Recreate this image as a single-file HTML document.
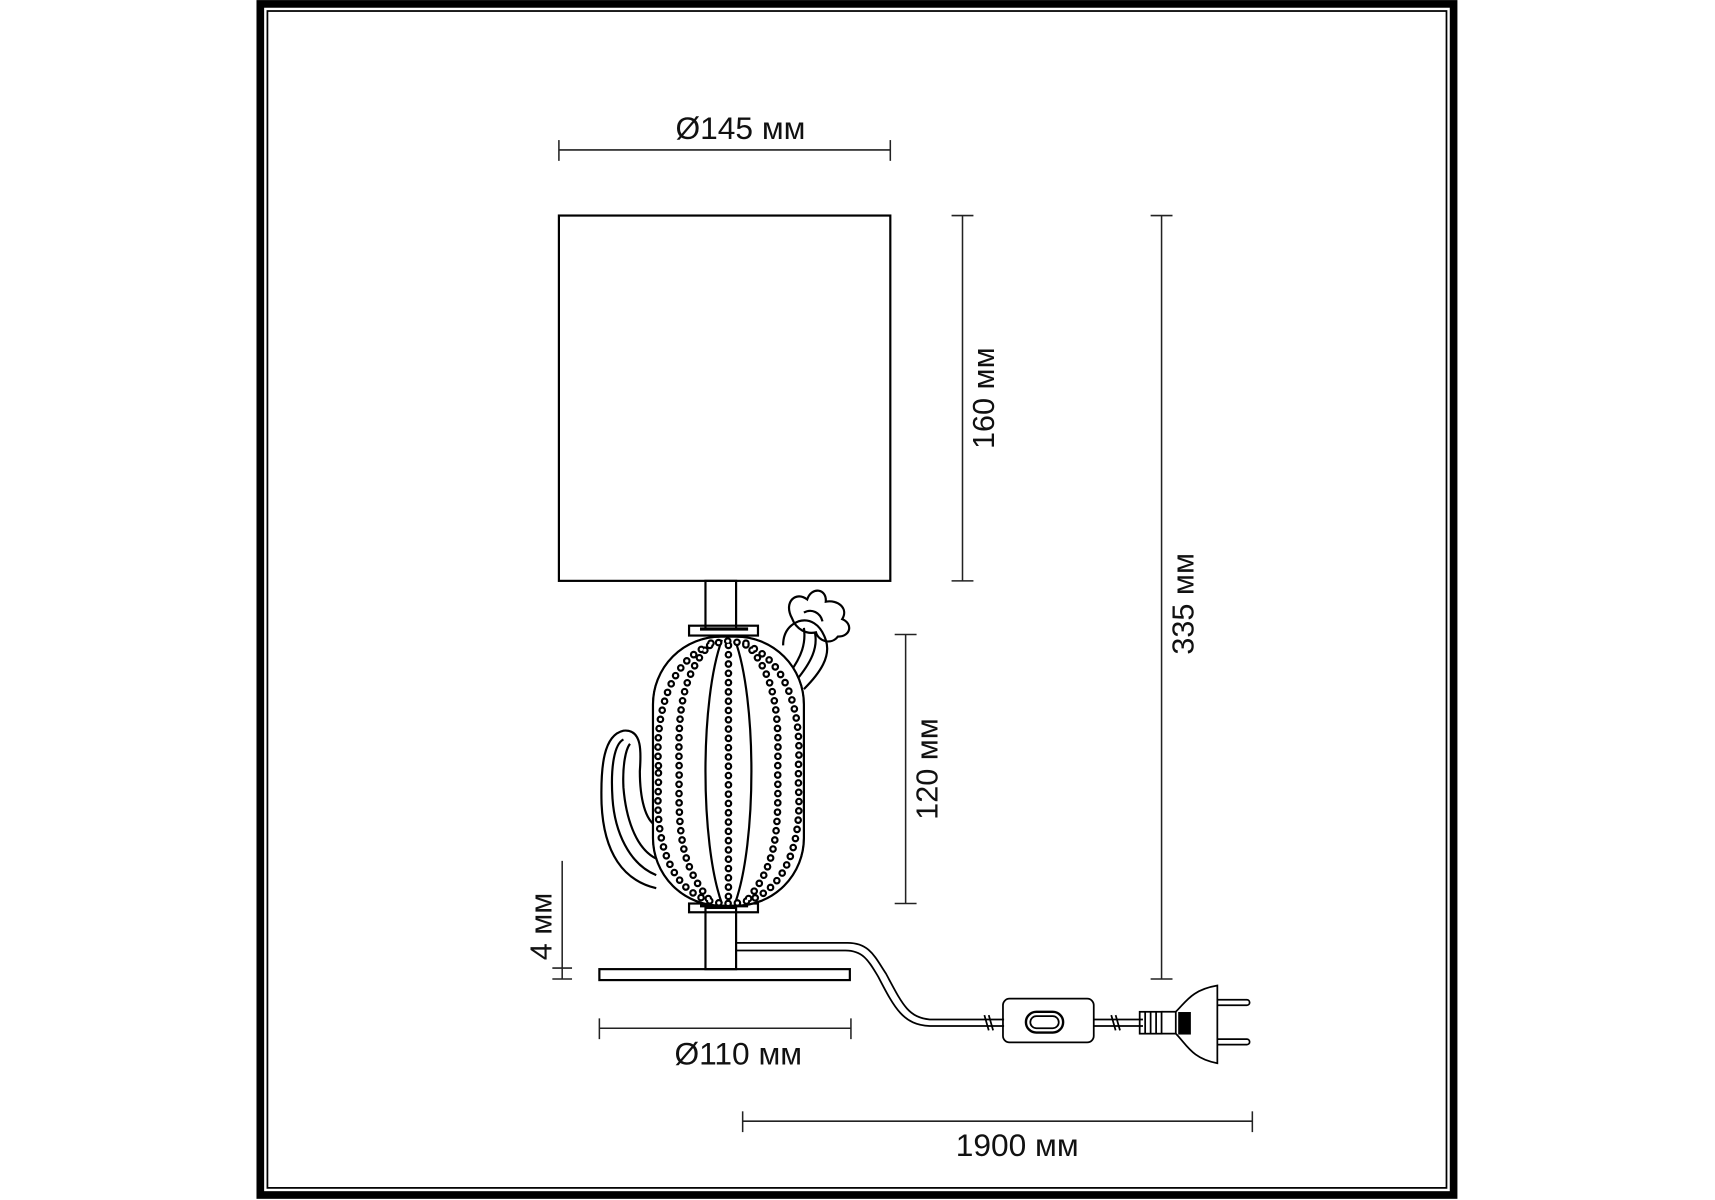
<!DOCTYPE html>
<html><head><meta charset="utf-8"><style>
html,body{margin:0;padding:0;background:#fff;}
svg{display:block;}
text{font-family:"Liberation Sans Narrow","Liberation Sans",sans-serif;fill:#111;}
</style></head><body>
<svg width="1715" height="1200" viewBox="0 0 1568 1097" xmlns="http://www.w3.org/2000/svg">
<rect x="0" y="0" width="1568" height="1097" fill="#fff"/>
<rect x="238" y="3.5" width="1091" height="1089" fill="none" stroke="#000" stroke-width="7"/>
<rect x="244.5" y="10" width="1078" height="1076" fill="none" stroke="#000" stroke-width="1.6"/>

<g stroke="#222" stroke-width="1.4" fill="none">
<line x1="511" y1="137" x2="814" y2="137"/>
<line x1="511" y1="128" x2="511" y2="147"/><line x1="814" y1="128" x2="814" y2="147"/>
<line x1="880" y1="197" x2="880" y2="531"/>
<line x1="870" y1="197" x2="890" y2="197"/><line x1="870" y1="531" x2="890" y2="531"/>
<line x1="1062" y1="197" x2="1062" y2="895"/>
<line x1="1052" y1="197" x2="1072" y2="197"/><line x1="1052" y1="895" x2="1072" y2="895"/>
<line x1="828" y1="580" x2="828" y2="826"/>
<line x1="818" y1="580" x2="838" y2="580"/><line x1="818" y1="826" x2="838" y2="826"/>
<line x1="514" y1="787" x2="514" y2="895"/>
<line x1="505" y1="885" x2="523" y2="885"/><line x1="505" y1="895" x2="523" y2="895"/>
<line x1="548" y1="940" x2="778" y2="940"/>
<line x1="548" y1="931" x2="548" y2="950"/><line x1="778" y1="931" x2="778" y2="950"/>
<line x1="679" y1="1025" x2="1145" y2="1025"/>
<line x1="679" y1="1016" x2="679" y2="1035"/><line x1="1145" y1="1016" x2="1145" y2="1035"/>
</g>

<text x="677" y="127" font-size="29" text-anchor="middle">Ø145 мм</text>
<text x="675" y="973" font-size="29" text-anchor="middle">Ø110 мм</text>
<text x="930" y="1057" font-size="29" text-anchor="middle">1900 мм</text>
<text transform="translate(909,364) rotate(-90)" font-size="28" text-anchor="middle" style="font-family:'Liberation Sans',sans-serif">160 мм</text>
<text transform="translate(1091,552) rotate(-90)" font-size="28" text-anchor="middle" style="font-family:'Liberation Sans',sans-serif">335 мм</text>
<text transform="translate(857,703) rotate(-90)" font-size="28" text-anchor="middle" style="font-family:'Liberation Sans',sans-serif">120 мм</text>
<text transform="translate(504,847) rotate(-90)" font-size="28" text-anchor="middle" style="font-family:'Liberation Sans',sans-serif">4 мм</text>

<g stroke="#000" stroke-width="2" fill="none">
<rect x="511" y="197" width="303" height="334" fill="#fff"/>
<rect x="645" y="531" width="28" height="44"/>
<rect x="645" y="830" width="28" height="56"/>
<rect x="548" y="886" width="229" height="10"/>
<rect x="630" y="572" width="63" height="9"/>
<line x1="640" y1="575" x2="684" y2="575" stroke-width="3"/>
<rect x="630" y="826" width="63" height="8"/>
<line x1="640" y1="828" x2="684" y2="828" stroke-width="3"/>
<path d="M600,812 C570,805 552,780 550,735 C549,700 552,672 570,668 C588,666 586,690 585,705 C585,730 590,750 600,755"/>
<path d="M600,800 C575,790 562,760 560,730 C558,700 562,680 570,676"/>
<path d="M600,785 C580,775 572,745 570,720 C569,700 572,685 576,680"/>
<path d="M735,630 C750,615 760,600 755,585 C750,570 740,565 730,568 C720,572 716,580 716,590"/>
<path d="M728,622 C742,605 748,592 745,578"/>
<path d="M722,615 C733,600 737,588 735,574"/>
<path d="M724,565 C716,550 728,540 738,548 C742,536 756,538 755,550 C766,548 776,556 770,566 C780,570 778,582 766,582 C760,590 748,586 746,578 C738,580 728,576 724,565 Z"/>
<path d="M735,560 C742,556 750,560 752,568"/>
<rect x="597" y="582" width="138" height="246" rx="62" ry="62" fill="#fff"/>
<path d="M660,585 C640,640 640,770 660,826"/>
<path d="M672,585 C692,640 692,770 672,826"/>
</g>
<g fill="none" stroke-linecap="round">
<g stroke="#000" stroke-width="7" stroke-dasharray="0 8.5">
<path d="M602,700 C598,640 620,590 666,586 C712,590 734,640 730,700 L730,720 C734,780 712,826 666,826 C620,826 598,780 602,720 Z"/>
<path d="M650,588 C620,620 620,660 621,705 C620,760 622,790 648,822"/>
<path d="M682,588 C712,620 712,660 711,705 C712,760 710,790 684,822"/>
<path d="M666,590 L666,822"/>
</g>
<g stroke="#fff" stroke-width="3" stroke-dasharray="0 8.5">
<path d="M602,700 C598,640 620,590 666,586 C712,590 734,640 730,700 L730,720 C734,780 712,826 666,826 C620,826 598,780 602,720 Z"/>
<path d="M650,588 C620,620 620,660 621,705 C620,760 622,790 648,822"/>
<path d="M682,588 C712,620 712,660 711,705 C712,760 710,790 684,822"/>
<path d="M666,590 L666,822"/>
</g>
</g>
<g stroke="#000" stroke-width="1.6" fill="none">
<rect x="597" y="582" width="138" height="246" rx="62" ry="62"/>
<path d="M673,862 L775,862 C795,862 800,875 810,890 C825,918 830,930 850,932 L918,932"/>
<path d="M673,869 L773,869 C790,869 795,880 803,893 C818,922 826,937 850,938 L918,938"/>
<path d="M1000,932 L1045,932 M1000,938 L1045,938"/>
<path d="M900,928 l4,14 M904,928 l4,14 M1016,928 l4,14 M1020,928 l4,14"/>
<rect x="917" y="913" width="83" height="40" rx="6"/>
<rect x="938" y="925" width="34" height="19" rx="9.5" stroke-width="2.2"/>
<rect x="942" y="929" width="26" height="11" rx="5.5"/>
<rect x="1042" y="925" width="20" height="20"/>
<line x1="1047" y1="925" x2="1047" y2="945"/><line x1="1052" y1="925" x2="1052" y2="945"/><line x1="1057" y1="925" x2="1057" y2="945"/>
<path d="M1062,925 L1075,925 L1075,945 L1062,945"/>
<rect x="1078" y="926" width="10" height="19" fill="#000"/>
<path d="M1075,925 C1085,915 1090,905 1113,901 L1113,972 C1090,968 1085,955 1075,945"/>
<path d="M1113,914 L1140,914 a2,2 0 0 1 0,5 L1113,919"/>
<path d="M1113,950 L1140,950 a2,2 0 0 1 0,5 L1113,955"/>
</g>
</svg>
</body></html>
